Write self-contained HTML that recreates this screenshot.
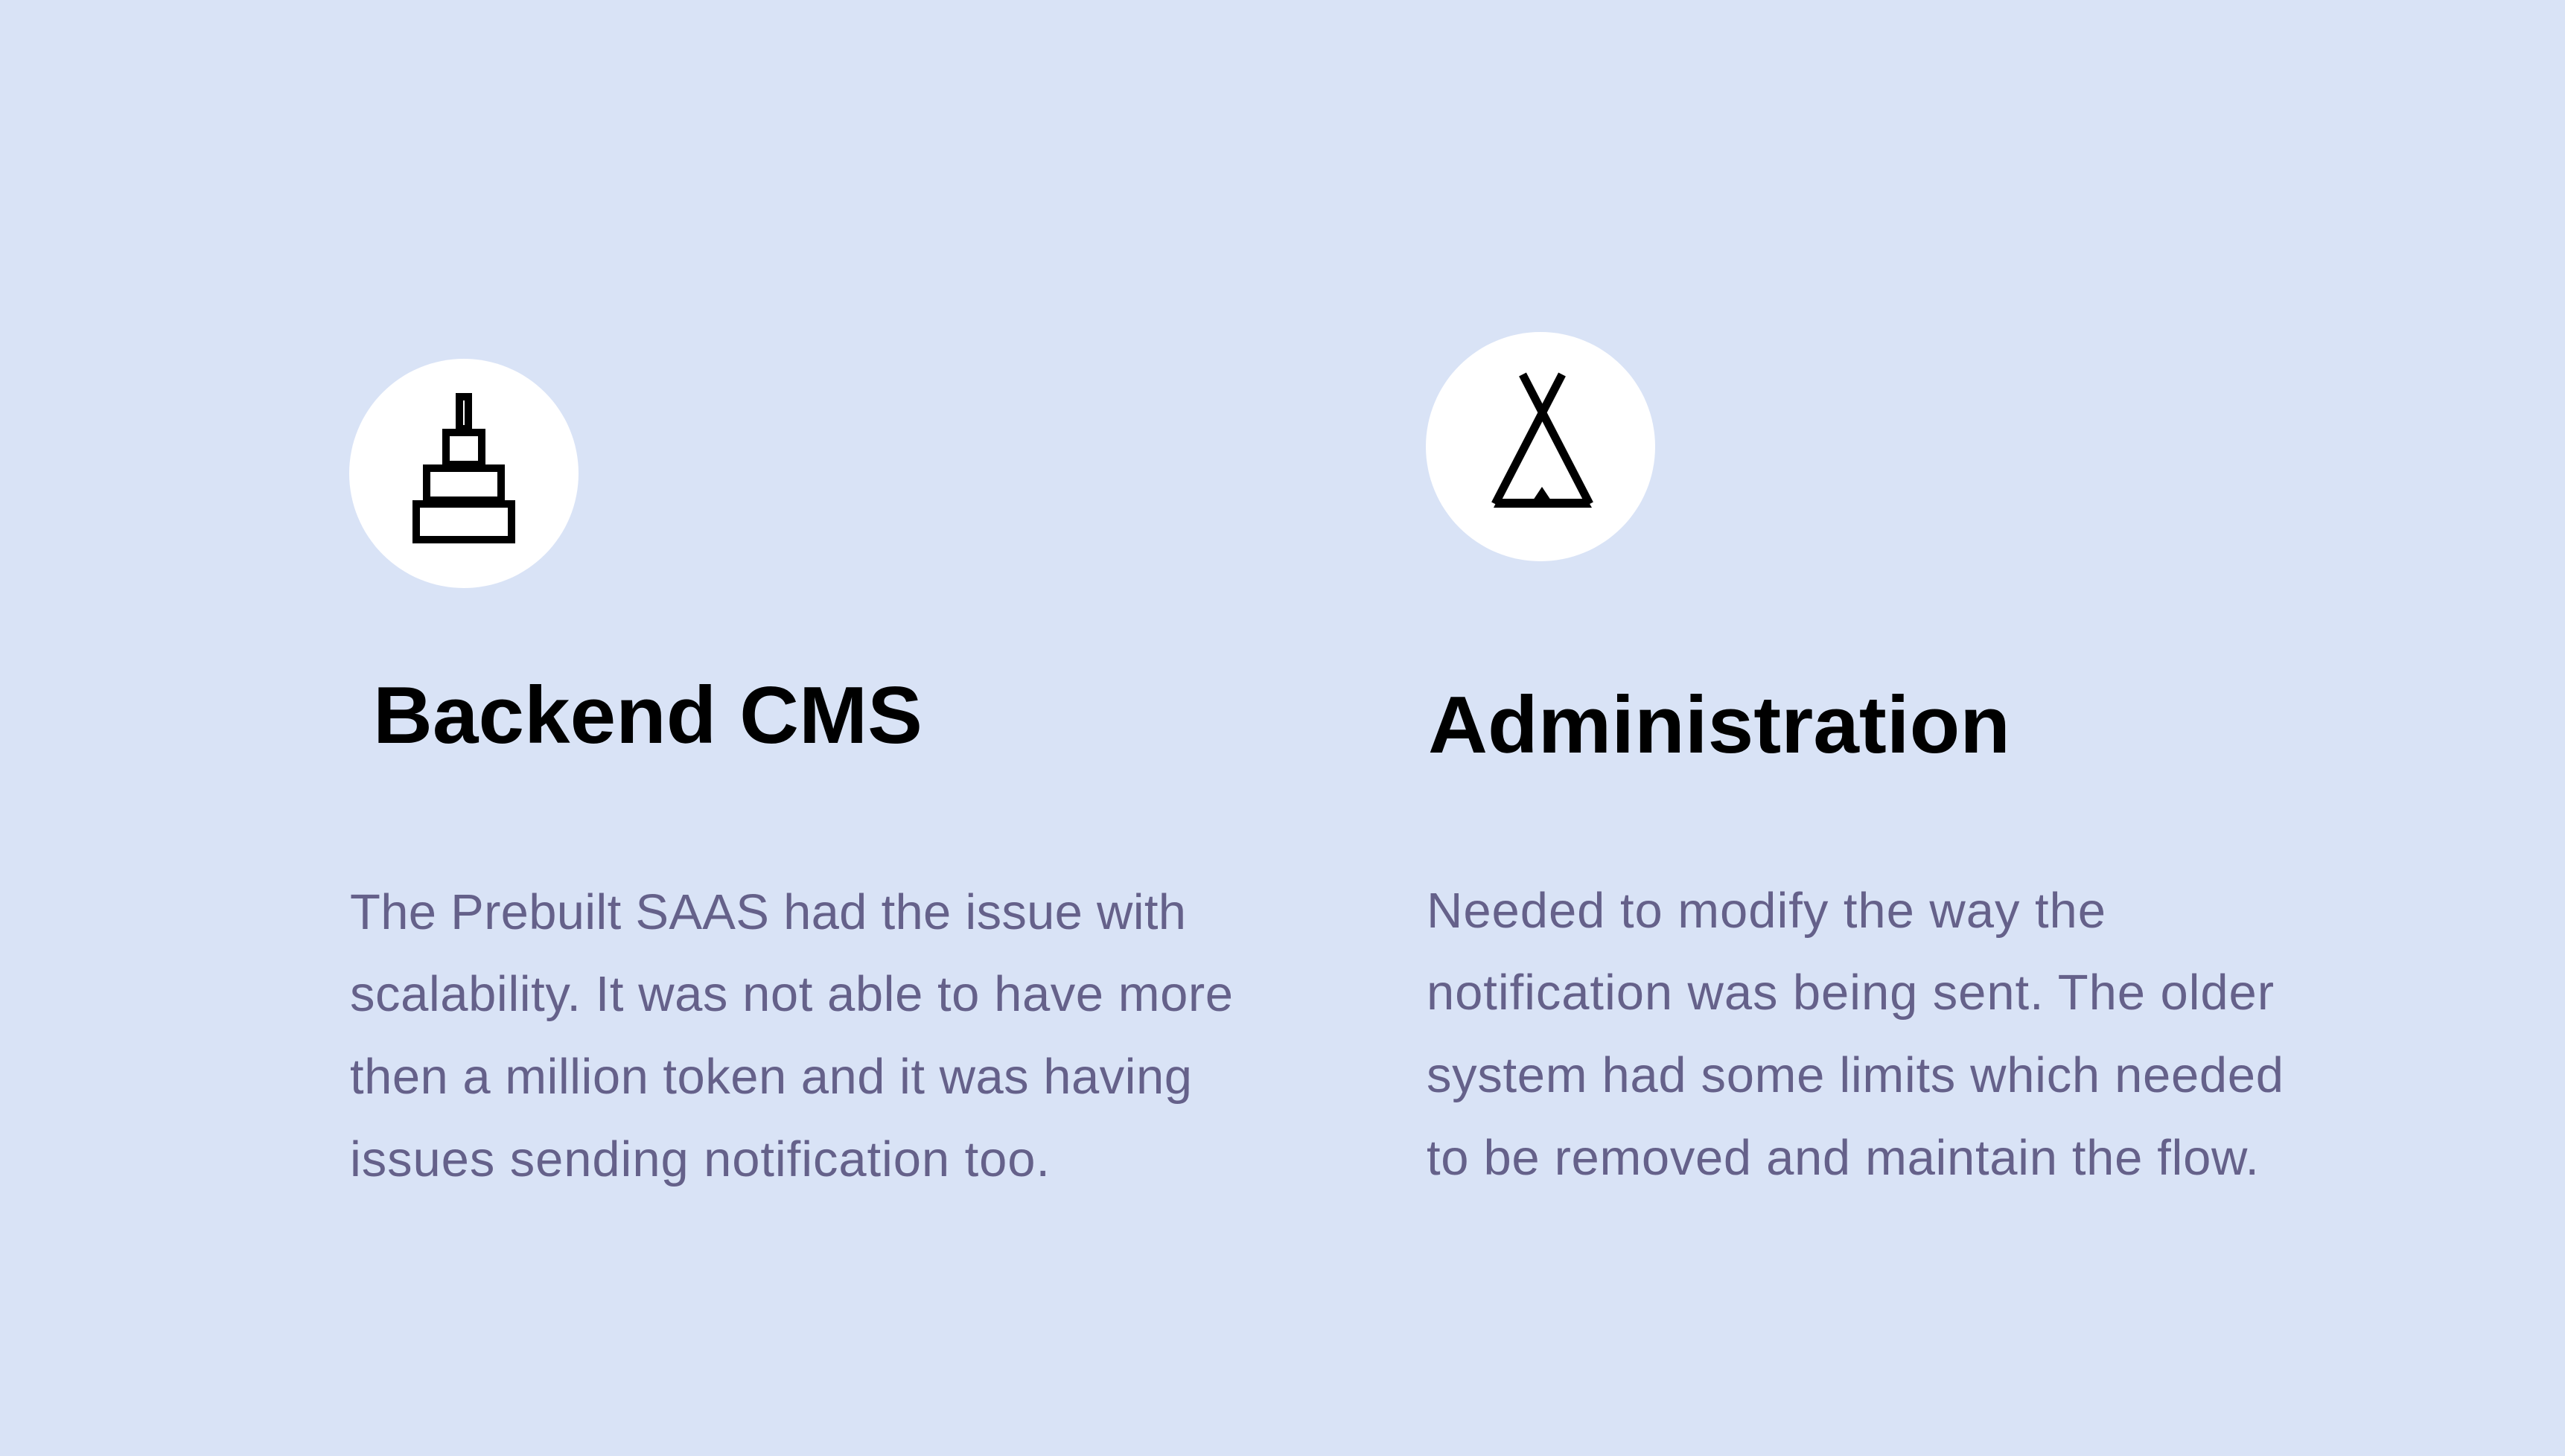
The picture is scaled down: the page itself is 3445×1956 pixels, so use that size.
<!DOCTYPE html>
<html><head><meta charset="utf-8"><style>
html,body{margin:0;padding:0;background:#d9e3f6;}
svg{display:block}
.t{font-family:"Liberation Sans",sans-serif;font-weight:bold;font-size:109px;fill:#000}
.b{font-family:"Liberation Sans",sans-serif;font-size:67px;fill:#65618a}
</style></head><body>
<svg width="3445" height="1956" viewBox="0 0 3445 1956" xmlns="http://www.w3.org/2000/svg">
<rect width="3445" height="1956" fill="#d9e3f6"/>
<circle cx="623" cy="636" r="154" fill="#fff"/>
<g fill="none" stroke="#000" stroke-width="10">
<rect x="617" y="533" width="12" height="43"/>
<rect x="599" y="581" width="48" height="43"/>
<rect x="573" y="629" width="100" height="43"/>
<rect x="559" y="677" width="128" height="48"/>
</g>
<circle cx="2069" cy="600" r="154" fill="#fff"/>
<g fill="none" stroke="#000" stroke-width="11">
<line x1="2045" y1="503" x2="2135" y2="677"/>
<line x1="2098" y1="503" x2="2008" y2="677"/>
</g>
<polygon points="2006,682 2012,670 2131,670 2138,682" fill="#000"/>
<polygon points="2071,654 2057,675 2085,675" fill="#000"/>
<text class="t" x="501" y="998" textLength="738" lengthAdjust="spacingAndGlyphs">Backend CMS</text>
<text class="t" x="1918" y="1011" textLength="782" lengthAdjust="spacingAndGlyphs">Administration</text>
<text class="b" x="470" y="1248" textLength="1123">The Prebuilt SAAS had the issue with</text>
<text class="b" x="470" y="1358" textLength="1186">scalability. It was not able to have more</text>
<text class="b" x="470" y="1469" textLength="1131">then a million token and it was having</text>
<text class="b" x="470" y="1580" textLength="940">issues sending notification too.</text>
<text class="b" x="1916" y="1246" textLength="912">Needed to modify the way the</text>
<text class="b" x="1916" y="1356" textLength="1138">notification was being sent. The older</text>
<text class="b" x="1916" y="1467" textLength="1151">system had some limits which needed</text>
<text class="b" x="1916" y="1578" textLength="1118">to be removed and maintain the flow.</text>
</svg>
</body></html>
